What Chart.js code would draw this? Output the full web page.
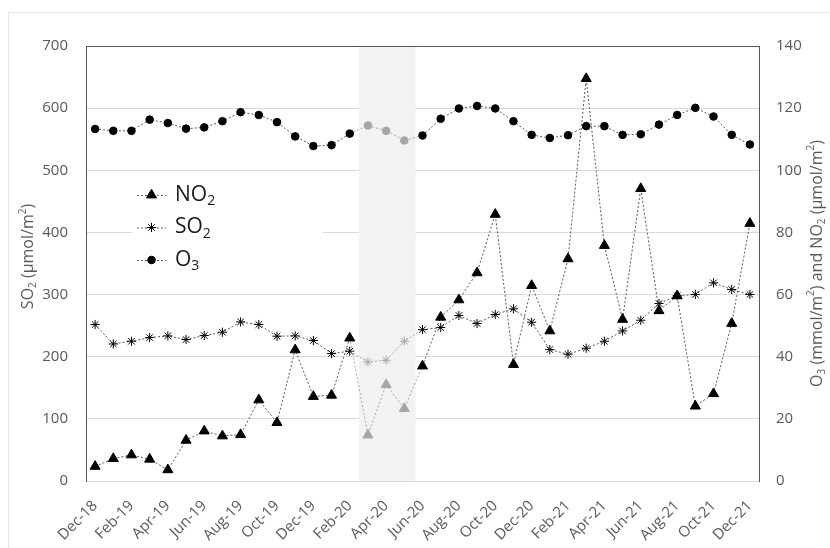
<!DOCTYPE html>
<html>
<head>
<meta charset="utf-8">
<script src="https://cdn.jsdelivr.net/npm/chart.js@4/dist/chart.umd.min.js"></script>
<style>
  html, body { margin: 0; padding: 0; background: #ffffff; }
  canvas { display: block; }
</style>
</head>
<body>
<canvas id="chart" width="830" height="548"></canvas>
<script>
// Monthly categories, Dec 2018 – Dec 2021
const months = ['Dec-18','Jan-19','Feb-19','Mar-19','Apr-19','May-19','Jun-19','Jul-19','Aug-19','Sep-19',
  'Oct-19','Nov-19','Dec-19','Jan-20','Feb-20','Mar-20','Apr-20','May-20','Jun-20','Jul-20',
  'Aug-20','Sep-20','Oct-20','Nov-20','Dec-20','Jan-21','Feb-21','Mar-21','Apr-21','May-21',
  'Jun-21','Jul-21','Aug-21','Sep-21','Oct-21','Nov-21','Dec-21'];

// NO2 (µmol/m²), right axis
const no2 = [4.7, 7.2, 8.4, 7.0, 3.6, 13.1, 16.1, 14.5, 14.9, 26.1,
  18.8, 42.2, 27.2, 27.6, 46.0, 14.8, 31.0, 23.3, 37.0, 52.7,
  58.3, 67.0, 85.8, 37.5, 62.9, 48.3, 71.5, 129.5, 75.8, 52.0,
  94.1, 54.8, 59.6, 24.1, 28.1, 50.7, 82.9];

// SO2 (µmol/m²), left axis
const so2 = [251.8, 220.5, 224.9, 230.8, 233.5, 227.6, 234.0, 239.4, 256.0, 251.8,
  233.0, 233.5, 226.0, 205.0, 208.8, 191.5, 194.3, 224.9, 243.5, 247.0,
  266.3, 253.4, 267.9, 277.0, 255.5, 211.5, 204.0, 213.6, 224.9, 241.5,
  258.7, 285.6, 298.0, 300.2, 318.9, 308.2, 300.2];

// O3 (mmol/m²), right axis
const o3 = [113.3, 112.7, 112.7, 116.3, 115.2, 113.4, 113.8, 115.8, 118.7, 117.8,
  115.5, 110.9, 107.8, 108.1, 111.8, 114.4, 112.7, 109.6, 111.2, 116.6,
  119.9, 120.7, 119.9, 115.8, 111.4, 110.4, 111.3, 114.2, 114.2, 111.4,
  111.6, 114.7, 117.8, 120.1, 117.3, 111.4, 108.3];

// Lockdown period (highlighted months)
const lockdownMonths = ['Mar-20', 'Apr-20', 'May-20'];

const leftTicks = [0, 100, 200, 300, 400, 500, 600, 700];
const rightTicks = [0, 20, 40, 60, 80, 100, 120, 140];

const FONT = '"Open Sans", "Liberation Sans", sans-serif';
const TEXT = '#595959';
const LINE = '#595959';
const MUTED = '#a6a6a6';
const BLACK = '#000000';

const isLock = i => lockdownMonths.includes(months[i]);
const markColors = months.map((m, i) => isLock(i) ? MUTED : BLACK);
const segColor = c => (isLock(c.p0DataIndex) || isLock(c.p1DataIndex)) ? MUTED : LINE;

function series(label, data, axis, style, radius) {
  return {
    label, data, yAxisID: axis,
    borderColor: LINE, borderWidth: 1, borderDash: [2, 2],
    pointStyle: style, pointRadius: radius, pointHoverRadius: radius,
    pointBackgroundColor: markColors, pointBorderColor: markColors, pointBorderWidth: 1,
    segment: { borderColor: segColor },
    tension: 0, fill: false
  };
}

// Draws a string made of normal / subscript / superscript pieces, centred on (0,0)
function richText(ctx, parts, size, color) {
  const small = Math.round(size * 0.65);
  let total = 0;
  const widths = parts.map(p => {
    ctx.font = `${p.s || p.u ? small : size}px ${FONT}`;
    const w = ctx.measureText(p.t).width;
    total += w;
    return w;
  });
  let x = -total / 2;
  ctx.fillStyle = color;
  ctx.textBaseline = 'middle';
  ctx.textAlign = 'left';
  parts.forEach((p, i) => {
    ctx.font = `${p.s || p.u ? small : size}px ${FONT}`;
    const dy = p.s ? size * 0.3 : (p.u ? -size * 0.35 : 0);
    ctx.fillText(p.t, x, dy);
    x += widths[i];
  });
  return total;
}

const decorations = {
  id: 'decorations',
  beforeDraw(chart) {
    const ctx = chart.ctx;
    ctx.save();
    ctx.fillStyle = '#ffffff';
    ctx.fillRect(0, 0, chart.width, chart.height);
    ctx.strokeStyle = '#e3e3e3';
    ctx.lineWidth = 1;
    ctx.strokeRect(8.5, 12.5, chart.width + 20, chart.height + 20);
    ctx.restore();
  },
  beforeDatasetsDraw(chart) {
    const { ctx, chartArea, scales } = chart;
    const x = scales.x;
    const first = months.indexOf(lockdownMonths[0]);
    const last = months.indexOf(lockdownMonths[lockdownMonths.length - 1]);
    const step = x.getPixelForValue(1) - x.getPixelForValue(0);
    const x0 = x.getPixelForValue(first) - step / 2;
    const x1 = x.getPixelForValue(last) + step * 0.62;
    ctx.save();
    ctx.fillStyle = '#f2f2f2';
    ctx.fillRect(x0, chartArea.top + 1, x1 - x0, chartArea.bottom - chartArea.top - 1);
    // top frame line of the plot area
    ctx.strokeStyle = LINE;
    ctx.lineWidth = 1;
    ctx.beginPath();
    ctx.moveTo(chartArea.left, Math.round(chartArea.top) + 0.5);
    ctx.lineTo(chartArea.right, Math.round(chartArea.top) + 0.5);
    ctx.stroke();
    ctx.restore();
  },
  afterDatasetsDraw(chart) {
    const { ctx, chartArea } = chart;
    const midY = (chartArea.top + chartArea.bottom) / 2;
    ctx.save();
    // axis titles
    ctx.save();
    ctx.translate(28.5, midY - 7);
    ctx.rotate(-Math.PI / 2);
    richText(ctx, [{ t: 'SO' }, { t: '2', s: 1 }, { t: ' (µmol/m' }, { t: '2', u: 1 }, { t: ')' }], 16, TEXT);
    ctx.restore();
    ctx.save();
    ctx.translate(817, midY);
    ctx.rotate(-Math.PI / 2);
    richText(ctx, [{ t: 'O' }, { t: '3', s: 1 }, { t: ' (mmol/m' }, { t: '2', u: 1 }, { t: ') and NO' },
      { t: '2', s: 1 }, { t: ' (µmol/m' }, { t: '2', u: 1 }, { t: ')' }], 16, TEXT);
    ctx.restore();

    // legend box inside the plot
    ctx.fillStyle = '#ffffff';
    ctx.fillRect(132, 174, 191, 117);
    const entries = [
      { ds: 0, parts: [{ t: 'NO' }, { t: '2', s: 1 }] },
      { ds: 1, parts: [{ t: 'SO' }, { t: '2', s: 1 }] },
      { ds: 2, parts: [{ t: 'O' }, { t: '3', s: 1 }] }
    ];
    entries.forEach((e, i) => {
      const ds = chart.data.datasets[e.ds];
      const y = 195 + i * 32.5;
      ctx.strokeStyle = LINE;
      ctx.lineWidth = 1;
      ctx.setLineDash([2, 2]);
      ctx.beginPath();
      ctx.moveTo(137, y + 0.5);
      ctx.lineTo(166, y + 0.5);
      ctx.stroke();
      ctx.setLineDash([]);
      ctx.fillStyle = BLACK;
      ctx.strokeStyle = BLACK;
      Chart.helpers.drawPoint(ctx, { pointStyle: ds.pointStyle, radius: ds.pointRadius, rotation: 0, borderWidth: 1 }, 151.5, y);
      ctx.save();
      const size = 21;
      let w = 0;
      e.parts.forEach(p => { ctx.font = `${p.s ? Math.round(size * 0.65) : size}px ${FONT}`; w += ctx.measureText(p.t).width; });
      // text starts at x = 175
      ctx.translate(175 + w / 2, y);
      richText(ctx, e.parts, size, '#1a1a1a');
      ctx.restore();
    });
    ctx.restore();
  }
};

new Chart(document.getElementById('chart'), {
  type: 'line',
  data: {
    labels: months,
    datasets: [
      series('NO2', no2, 'y1', 'triangle', 5.8),
      series('SO2', so2, 'y', 'star', 4.6),
      series('O3', o3, 'y1', 'circle', 3.8)
    ]
  },
  options: {
    responsive: false,
    animation: false,
    devicePixelRatio: 1,
    layout: { padding: { top: 46, left: 0, right: 0, bottom: 0 } },
    plugins: { legend: { display: false }, tooltip: { enabled: false } },
    scales: {
      x: {
        type: 'category',
        offset: true,
        grid: { display: false, drawTicks: false },
        border: { color: '#d9d9d9', width: 1 },
        ticks: {
          autoSkip: false, minRotation: 45, maxRotation: 45, padding: 16,
          color: TEXT, font: { family: FONT, size: 15 },
          callback: (v, i) => (i % 2 === 0 ? months[i] : '')
        },
        afterFit: s => { s.height = 67; }
      },
      y: {
        position: 'left',
        min: leftTicks[0], max: leftTicks[leftTicks.length - 1],
        afterBuildTicks: s => { s.ticks = leftTicks.map(v => ({ value: v })); },
        grid: { color: '#d9d9d9', drawTicks: false },
        border: { color: LINE, width: 1 },
        ticks: { padding: 18, color: TEXT, font: { family: FONT, size: 15 } },
        afterFit: s => { s.width = 86; }
      },
      y1: {
        position: 'right',
        min: rightTicks[0], max: rightTicks[rightTicks.length - 1],
        afterBuildTicks: s => { s.ticks = rightTicks.map(v => ({ value: v })); },
        grid: { display: false, drawTicks: false },
        border: { color: LINE, width: 1 },
        ticks: { padding: 17, color: TEXT, font: { family: FONT, size: 15 } },
        afterFit: s => { s.width = 71; }
      }
    }
  },
  plugins: [decorations]
});
</script>
</body>
</html>
